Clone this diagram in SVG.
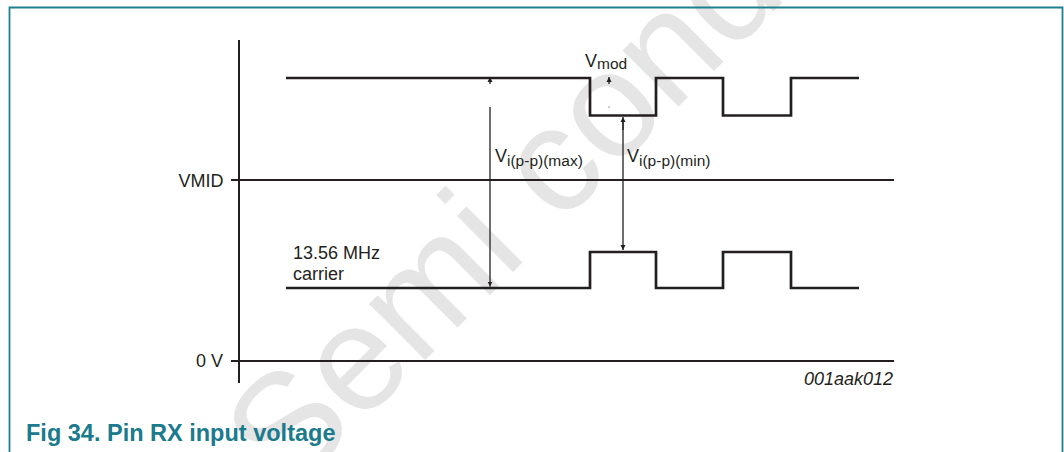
<svg xmlns="http://www.w3.org/2000/svg" width="1064" height="452" viewBox="0 0 1064 452">
<style>
.t{font-family:"Liberation Sans",Arial,sans-serif;font-size:18px;fill:#231f20}
.sub{font-size:15.5px}
.wave{fill:none;stroke:#231f20;stroke-width:2.7;stroke-linejoin:miter}
.ax{fill:none;stroke:#231f20;stroke-width:2}
.arr{fill:none;stroke:#231f20;stroke-width:1.3}
.cap{font-family:"Liberation Sans",Arial,sans-serif;font-size:23.5px;font-weight:bold;fill:#1b7a8c}
.wm{font-family:"Liberation Sans",Arial,sans-serif;font-size:150px;fill:#e5e5e5}
</style>
<defs>
<marker id="ah" viewBox="0 0 10 10" refX="10" refY="5" markerWidth="5" markerHeight="7" markerUnits="userSpaceOnUse" orient="auto"><path d="M0,0 L10,5 L0,10 z" fill="#231f20"/></marker>
</defs>
<rect width="1064" height="452" fill="#ffffff"/>
<g id="watermark"><text class="wm" transform="translate(288,497) rotate(-45)">Semi conductor</text></g>
<path id="frame" d="M9.5,460 V7.5 H1062.5 V460" fill="none" stroke="#1f7f8f" stroke-width="1.8"/>
<g id="axis">
<line class="ax" x1="239" y1="40" x2="239" y2="383"/>
<line class="ax" x1="231" y1="180" x2="894" y2="180"/>
<line class="ax" x1="231" y1="361" x2="894" y2="361"/>
<text class="t" x="223.5" y="186.5" text-anchor="end">VMID</text>
<text class="t" x="223" y="366.5" text-anchor="end">0 V</text>
</g>
<g id="upper-envelope">
<path class="wave" d="M286,78 H590 V115.5 H656 V78 H723 V115.5 H791 V78 H859"/>
</g>
<g id="carrier">
<path class="wave" d="M286,288 H590 V252 H656 V288 H723 V252 H791 V288 H859"/>
<text class="t" x="293" y="258.5">13.56 MHz</text>
<text class="t" x="293" y="279.5">carrier</text>
</g>
<g id="connectors">
<line class="arr" x1="490" y1="84" x2="490" y2="77" marker-end="url(#ah)"/>
<line class="arr" x1="490" y1="107" x2="490" y2="286.5" marker-end="url(#ah)"/>
<line class="arr" x1="609" y1="84" x2="609" y2="77" marker-end="url(#ah)"/>
<circle cx="609" cy="107" r="0.6" fill="#231f20"/>
<line class="arr" x1="623" y1="130" x2="623" y2="117" marker-end="url(#ah)"/>
<line class="arr" x1="623" y1="120" x2="623" y2="250" marker-end="url(#ah)"/>
</g>
<g id="labels">
<text class="t" x="585" y="66.5">V<tspan class="sub" dy="2">mod</tspan></text>
<text class="t" x="495" y="161.5">V<tspan class="sub" dy="4.5">i(p-p)(max)</tspan></text>
<text class="t" x="627" y="161.5">V<tspan class="sub" dy="4.5">i(p-p)(min)</tspan></text>
<text class="t" x="893" y="385" text-anchor="end" font-style="italic" font-size="16">001aak012</text>
</g>
<text id="caption" class="cap" x="26" y="441">Fig 34. Pin RX input voltage</text>
</svg>
